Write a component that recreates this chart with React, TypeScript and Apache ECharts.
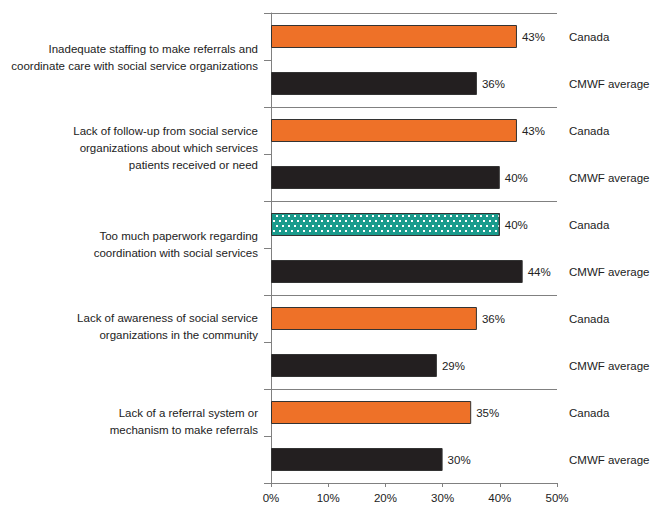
import React, { useEffect, useRef } from 'react';
import * as echarts from 'echarts';

const groups = [
  'Inadequate staffing to make referrals and\ncoordinate care with social service organizations',
  'Lack of follow-up from social service\norganizations about which services\npatients received or need',
  'Too much paperwork regarding\ncoordination with social services',
  'Lack of awareness of social service\norganizations in the community',
  'Lack of a referral system or\nmechanism to make referrals',
];
const seriesNames = ['Canada', 'CMWF average'];
const canada = [43, 43, 40, 36, 35];
const cmwf = [36, 40, 44, 29, 30];
const highlightGroup = 2;

// vertical nudge (px) of each group label below the Canada row centre
const labelNudge = [21, 17.5, 20, 8, 9];

const FONT = '"Liberation Sans Narrow", "Arial Narrow", "Liberation Sans", Arial, sans-serif';
const ORANGE = '#EE7128';
const BLACK = '#231F20';
const TEAL = '#1A9B8C';
const LINE = '#808080';
const TEXT = '#222222';
const LINE_H = 17;

export default function App() {
  const ref = useRef<HTMLDivElement>(null);
  useEffect(() => {
    const chart = echarts.init(ref.current!, undefined, { renderer: 'svg' });
    const rows: string[] = [];
    groups.forEach((g) => {
      rows.push(g);
      rows.push(g + ' (avg)');
    });
    const rich: any = {
      t: { fontSize: 11.5, lineHeight: LINE_H, color: TEXT, fontFamily: FONT, align: 'right' },
    };
    labelNudge.forEach((n, i) => {
      rich['s' + i] = { fontSize: 1, lineHeight: n * 2, align: 'right' };
    });
    const canadaData: any[] = [];
    const cmwfData: any[] = [];
    groups.forEach((_, i) => {
      if (i === highlightGroup) {
        canadaData.push({
          value: canada[i],
          itemStyle: {
            color: TEAL,
            decal: {
              symbol: 'rect',
              symbolSize: 1,
              color: '#ffffff',
              dashArrayX: [[1.7, 3.7], [0, 2.7, 1.7, 1.0]],
              dashArrayY: [1.7, 3.0],
              rotation: 0,
            },
          },
        });
      } else {
        canadaData.push(canada[i]);
      }
      canadaData.push('-');
      cmwfData.push('-');
      cmwfData.push(cmwf[i]);
    });
    const valueLabel = {
      show: true,
      position: 'right',
      distance: 5,
      formatter: '{c}%',
      fontSize: 11.5,
      color: TEXT,
      fontFamily: FONT,
    };
    chart.setOption({
      animation: false,
      backgroundColor: '#ffffff',
      grid: {
        left: 271,
        right: 95,
        top: 13,
        bottom: 23,
        containLabel: false,
        outerBoundsMode: 'none',
      },
      xAxis: {
        type: 'value',
        min: 0,
        max: 50,
        interval: 10,
        axisLine: { show: true, lineStyle: { color: LINE, width: 1 } },
        axisTick: { show: true, length: 4, lineStyle: { color: LINE } },
        splitLine: { show: false },
        axisLabel: { formatter: '{value}%', fontSize: 11.5, color: TEXT, fontFamily: FONT, margin: 9 },
      },
      yAxis: [
        {
          type: 'category',
          inverse: true,
          data: rows,
          min: 0,
          max: rows.length - 1,
          axisLine: { show: true, lineStyle: { color: LINE, width: 1 } },
          axisTick: { show: true, interval: 0, length: 7, lineStyle: { color: LINE } },
          splitLine: {
            show: true,
            interval: (i: number) => i % 2 === 0,
            lineStyle: { color: LINE, width: 1 },
          },
          axisLabel: {
            interval: 0,
            margin: 13,
            fontSize: 11.5,
            lineHeight: LINE_H,
            color: TEXT,
            fontFamily: FONT,
            align: 'right',
            rich,
            formatter: (v: string, i: number) => {
              if (i % 2 !== 0) return '';
              const g = i / 2;
              const lines = v.split('\n').map((l) => `{t|${l}}`);
              return [`{s${g}| }`, ...lines].join('\n');
            },
          },
        },
        {
          type: 'category',
          inverse: true,
          position: 'right',
          data: rows,
          min: 0,
          max: rows.length - 1,
          axisLine: { show: false },
          axisTick: { show: false },
          splitLine: { show: false },
          axisLabel: {
            interval: 0,
            margin: 12,
            fontSize: 11.5,
            color: TEXT,
            fontFamily: FONT,
            align: 'left',
            formatter: (_v: string, i: number) => seriesNames[i % 2],
          },
        },
      ],
      series: [
        {
          name: seriesNames[0],
          type: 'bar',
          yAxisIndex: 0,
          data: canadaData,
          barWidth: 23,
          barGap: '-100%',
          itemStyle: { color: ORANGE, borderColor: '#333333', borderWidth: 1 },
          label: valueLabel,
        },
        {
          name: seriesNames[1],
          type: 'bar',
          yAxisIndex: 0,
          data: cmwfData,
          barWidth: 23,
          barGap: '-100%',
          itemStyle: { color: BLACK, borderColor: '#333333', borderWidth: 1 },
          label: valueLabel,
        },
      ],
    });
    return () => chart.dispose();
  }, []);
  return (
    <div
      ref={ref}
      style={{ position: 'fixed', left: 0, top: 0, width: 652, height: 506, background: '#fff' }}
    />
  );
}
